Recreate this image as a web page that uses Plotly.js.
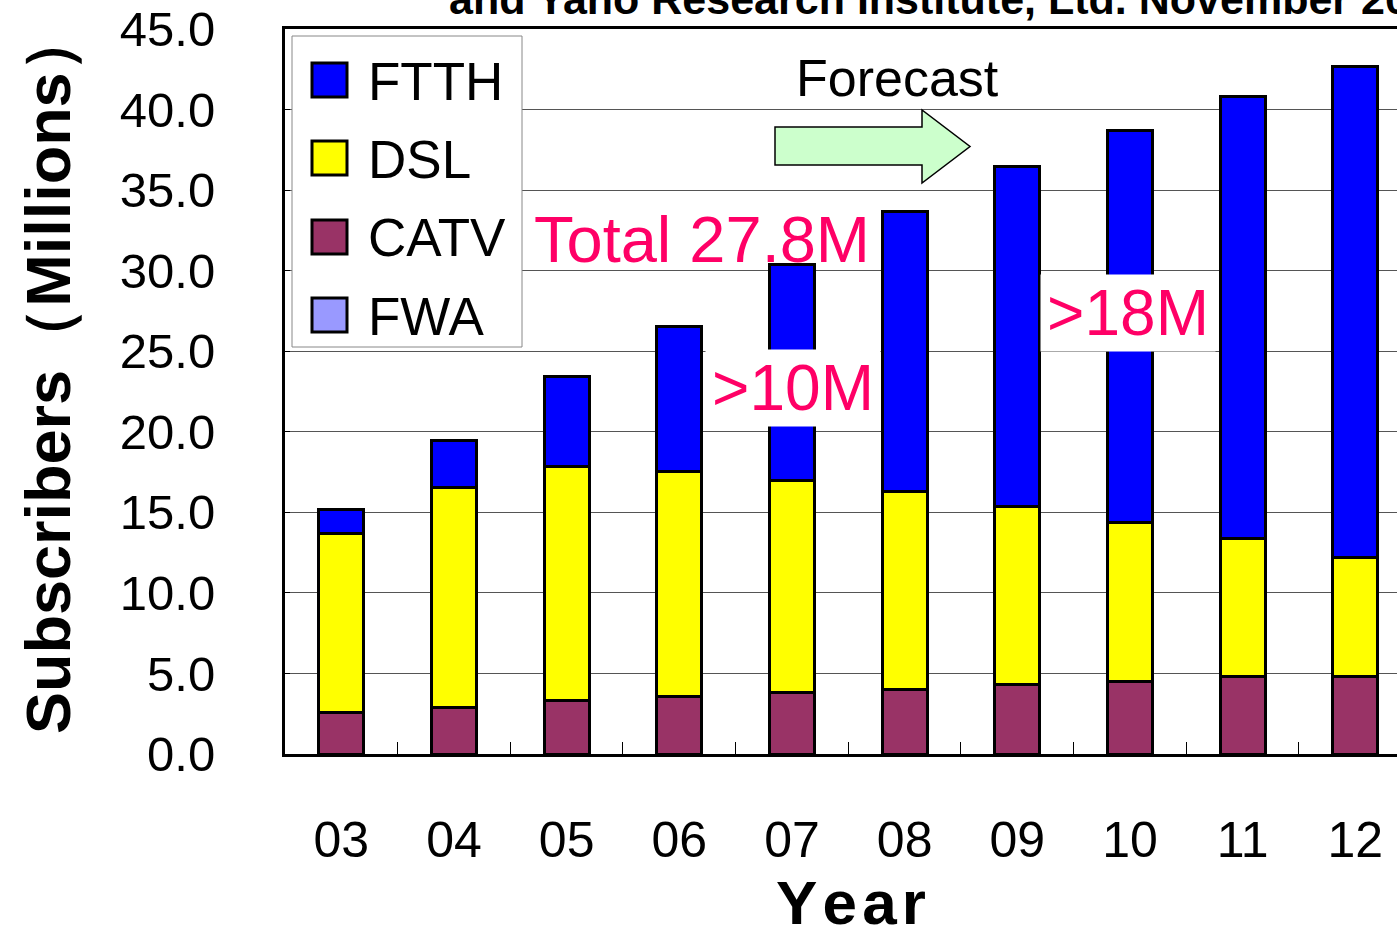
<!DOCTYPE html>
<html>
<head>
<meta charset="utf-8">
<script src="https://cdn.plot.ly/plotly-3.0.1.min.js"></script>
<style>html,body{margin:0;padding:0;background:#fff;}#chart{width:1397px;height:930px;}</style>
</head>
<body>
<div id="chart"></div>
<script>
// ---- data (millions of subscribers) ----
const years = ['03','04','05','06','07','08','09','10','11','12'];
const seriesNames = ['FTTH','DSL','CATV','FWA'];
const ftth = [1.5, 2.9, 5.6, 9.0, 13.4, 17.4, 21.1, 24.3, 27.4, 30.5];
const dsl  = [11.1, 13.7, 14.5, 14.0, 13.2, 12.3, 11.05, 9.9, 8.6, 7.4];
const catv = [2.6, 2.86, 3.35, 3.55, 3.8, 4.0, 4.3, 4.5, 4.8, 4.8];
const fwa  = [0, 0, 0, 0, 0, 0, 0, 0, 0, 0];
const yTicks = [0, 5, 10, 15, 20, 25, 30, 35, 40, 45];
const titleText = 'and Yano Research Institute, Ltd. November 2007';
const forecastText = 'Forecast';
const totalText = 'Total 27.8M';
const note10 = '>10M';
const note18 = '>18M';
const yTitle = 'Subscribers（Millions）';
const xTitle = 'Year';

// ---- styles ----
const colors = {FTTH:'#0000ff', DSL:'#ffff00', CATV:'#993366', FWA:'#9999ff'};
const FONT = 'Arial, "Liberation Sans", sans-serif';
const W = 1397, H = 930;
const L = 285, R = 0, T = 29, B = 176;
const plotW = W - L - R, plotH = H - T - B;
const px = v => (v - L) / plotW;
const py = v => (H - B - v) / plotH;

const barLine = {color:'#000', width:3};
function bar(name, vals){
  return {type:'bar', name:name, x:years, y:vals, width:0.4,
    marker:{color:colors[name], line:barLine}, showlegend:false,
    hovertemplate:name+' %{x}: %{y:.1f}M<extra></extra>'};
}
const data = [bar('FWA', fwa), bar('CATV', catv), bar('DSL', dsl), bar('FTTH', ftth)];

const shapes = [];
const annotations = [];

// custom legend
shapes.push({type:'rect', xref:'paper', yref:'paper', x0:px(292), x1:px(522), y0:py(347), y1:py(36),
  fillcolor:'#fff', line:{color:'#888', width:1}, layer:'above'});
const legendY = [80, 158, 237, 315];
seriesNames.forEach((n, i) => {
  const c = legendY[i];
  shapes.push({type:'rect', xref:'paper', yref:'paper', x0:px(312), x1:px(347), y0:py(c+17), y1:py(c-17),
    fillcolor:colors[n], line:{color:'#000', width:3}, layer:'above'});
  annotations.push({xref:'paper', yref:'paper', x:px(366), y:py(c+1), xanchor:'left', yanchor:'middle',
    text:n, showarrow:false, font:{family:FONT, size:53, color:'#000'}});
});

// forecast arrow
const ax0 = 775, axB = 922, axT = 970, yb1 = 127, yb2 = 165, yh1 = 110, yh2 = 183, ym = 146.5;
shapes.push({type:'path', xref:'paper', yref:'paper', layer:'above',
  path:'M'+px(ax0)+','+py(yb1)+' L'+px(axB)+','+py(yb1)+' L'+px(axB)+','+py(yh1)+' L'+px(axT)+','+py(ym)+
       ' L'+px(axB)+','+py(yh2)+' L'+px(axB)+','+py(yb2)+' L'+px(ax0)+','+py(yb2)+' Z',
  fillcolor:'#ccffcc', line:{color:'#000', width:1.5}});

annotations.push({xref:'paper', yref:'paper', x:px(897), y:py(78), xanchor:'center', yanchor:'middle',
  text:forecastText, showarrow:false, font:{family:FONT, size:52, color:'#000'}});
annotations.push({xref:'paper', yref:'paper', x:px(702), y:py(240), xanchor:'center', yanchor:'middle',
  text:totalText, showarrow:false, font:{family:FONT, size:65, color:'#ff0066'}});
annotations.push({xref:'paper', yref:'paper', x:px(793), y:py(388), xanchor:'center', yanchor:'middle',
  text:note10, showarrow:false, bgcolor:'#fff', width:174, height:76, borderpad:0,
  font:{family:FONT, size:64, color:'#ff0066'}});
annotations.push({xref:'paper', yref:'paper', x:px(1128), y:py(313), xanchor:'center', yanchor:'middle',
  text:note18, showarrow:false, bgcolor:'#fff', width:174, height:76, borderpad:0,
  font:{family:FONT, size:64, color:'#ff0066'}});

// clipped source title at top
annotations.push({xref:'paper', yref:'paper', x:px(447), y:py(25), xanchor:'left', yanchor:'bottom',
  text:'<b>'+titleText+'</b>', showarrow:false, font:{family:FONT, size:43, color:'#000'}});

// axis titles
annotations.push({xref:'paper', yref:'paper', x:px(48), y:py(372), xanchor:'center', yanchor:'middle',
  textangle:-90, text:'<b>'+yTitle+'</b>', showarrow:false,
  font:{family:FONT, size:63, color:'#000'}});
annotations.push({xref:'paper', yref:'paper', x:px(851), y:py(902), xanchor:'center', yanchor:'middle',
  text:'<b>'+xTitle.split('').join('\u200A')+'</b>', showarrow:false, font:{family:FONT, size:62, color:'#000'}});

const layout = {
  width:W, height:H,
  margin:{l:L, r:R, t:T, b:B, pad:0},
  paper_bgcolor:'#fff', plot_bgcolor:'#fff',
  barmode:'stack',
  showlegend:false,
  xaxis:{type:'category', range:[-0.5, 9.37], showline:true, linecolor:'#000', linewidth:3, mirror:true,
    ticks:'inside', tickson:'boundaries', ticklen:12, tickcolor:'#000', tickwidth:1,
    ticklabelstandoff:40, tickfont:{family:FONT, size:50, color:'#000'}, showgrid:false, zeroline:false,
    fixedrange:true},
  yaxis:{range:[0, 45], tickvals:yTicks, tickformat:'.1f', showline:true, linecolor:'#000', linewidth:3,
    ticks:'inside', ticklen:5, tickcolor:'#000', ticklabelstandoff:57,
    tickfont:{family:FONT, size:49, color:'#000'}, showgrid:true, gridcolor:'#555', gridwidth:1,
    zeroline:false, fixedrange:true},
  shapes:shapes,
  annotations:annotations
};
Plotly.newPlot('chart', data, layout, {displayModeBar:false, staticPlot:true});
</script>
</body>
</html>
